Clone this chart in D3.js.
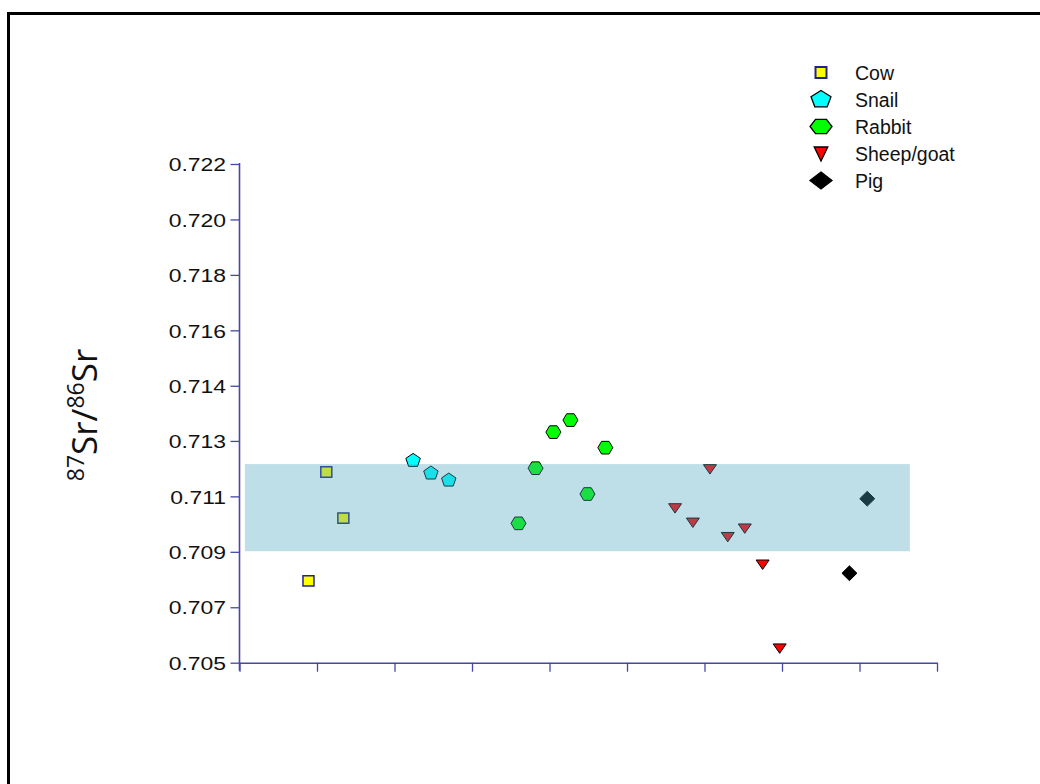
<!DOCTYPE html>
<html>
<head>
<meta charset="utf-8">
<script src="https://cdn.jsdelivr.net/npm/d3@7"></script>
<style>
  body { margin: 0; background: #fff; }
  svg { display: block; }
</style>
</head>
<body>
<figure id="chart" style="margin:0"></figure>
<script>
// values
const cowX = [0.89, 1.12, 1.34];
const cowY = [0.70779, 0.7115, 0.70993];
const snailX = [2.24, 2.47, 2.7];
const snailY = [0.71189, 0.71146, 0.71122];
const rabbitX = [3.6, 3.82, 4.05, 4.27, 4.49, 4.72];
const rabbitY = [0.70975, 0.71163, 0.71286, 0.71327, 0.71075, 0.71233];
const sheepX = [5.62, 5.85, 6.07, 6.3, 6.52, 6.75, 6.97];
const sheepY = [0.71026, 0.70977, 0.71159, 0.70928, 0.70957, 0.70834, 0.70548];
const pigX = [7.87, 8.1];
const pigY = [0.70805, 0.71059];

// local range band
const bandX = [0.07, 8.65];
const bandY = [0.7088, 0.71177];

const yTicks = [0.705, 0.70689, 0.70878, 0.71067, 0.71256, 0.71444, 0.71633, 0.71822, 0.72011, 0.722];
const yTickLabels = ['0.705', '0.707', '0.709', '0.711', '0.713', '0.714', '0.716', '0.718', '0.720', '0.722'];
const xTicks = [0, 1, 2, 3, 4, 5, 6, 7, 8, 9];

const legendNames = ['Cow', 'Snail', 'Rabbit', 'Sheep/goat', 'Pig'];

const width = 1040;
const height = 784;
const axisColor = '#4747a8';

const svg = d3.select('figure#chart')
  .append('svg')
  .attr('width', width)
  .attr('height', height);

const x = d3.scaleLinear().domain([0, 9]).range([239.5, 937]);
const y = d3.scaleLinear().domain([0.705, 0.722]).range([662.7, 164]);

// outer frame (runs off the right and bottom)
svg.append('rect')
  .attr('x', 8.5).attr('y', 13.5)
  .attr('width', 1200).attr('height', 1000)
  .attr('fill', 'none')
  .attr('stroke', '#000')
  .attr('stroke-width', 3);

// marker shapes
const poly = (pts) => 'M' + pts.map((p) => p.join(',')).join('L') + 'Z';
const ngon = (n, rx, ry, start) =>
  poly(d3.range(n).map((i) => {
    const a = start + (i * 2 * Math.PI) / n;
    return [rx * Math.cos(a), ry * Math.sin(a)];
  }));

const shapes = {
  square: (s) => poly([[-s.w, -s.h], [s.w, -s.h], [s.w, s.h], [-s.w, s.h]]),
  pentagon: (s) => ngon(5, s.w, s.h, -Math.PI / 2),
  hexagon: (s) => ngon(6, s.w, s.h, 0),
  triangle: (s) => poly([[-s.w, -s.h], [s.w, -s.h], [0, s.h]]),
  diamond: (s) => poly([[0, -s.h], [s.w, 0], [0, s.h], [-s.w, 0]]),
};

const series = [
  { name: 'Cow', xs: cowX, ys: cowY, shape: 'square', fill: '#ffff00', stroke: '#23238c', sw: 1.5,
    size: { w: 5.5, h: 5.2 }, legendSize: { w: 5.5, h: 5.5 } },
  { name: 'Snail', xs: snailX, ys: snailY, shape: 'pentagon', fill: '#00ffff', stroke: '#000', sw: 1,
    size: { w: 7.6, h: 7.2 }, legendSize: { w: 10.5, h: 9 } },
  { name: 'Rabbit', xs: rabbitX, ys: rabbitY, shape: 'hexagon', fill: '#00ff00', stroke: '#000', sw: 1,
    size: { w: 7.5, h: 7.3 }, legendSize: { w: 11, h: 8.3 } },
  { name: 'Sheep/goat', xs: sheepX, ys: sheepY, shape: 'triangle', fill: '#ff0000', stroke: '#000', sw: 1,
    size: { w: 6.5, h: 4.7 }, legendSize: { w: 6.8, h: 7 } },
  { name: 'Pig', xs: pigX, ys: pigY, shape: 'diamond', fill: '#000000', stroke: '#000', sw: 1,
    size: { w: 7.5, h: 7.4 }, legendSize: { w: 11, h: 8.5 } },
];

// points
const gPts = svg.append('g');
series.forEach((s) => {
  gPts.append('g')
    .selectAll('path')
    .data(s.xs.map((v, i) => [v, s.ys[i]]))
    .join('path')
    .attr('transform', (d) => `translate(${x(d[0])},${y(d[1])})`)
    .attr('d', shapes[s.shape](s.size))
    .attr('fill', s.fill)
    .attr('stroke', s.stroke)
    .attr('stroke-width', s.sw);
});

// translucent band drawn over the points
svg.append('rect')
  .attr('x', x(bandX[0]))
  .attr('y', y(bandY[1]))
  .attr('width', x(bandX[1]) - x(bandX[0]))
  .attr('height', y(bandY[0]) - y(bandY[1]))
  .attr('fill', 'rgb(73,162,190)')
  .attr('fill-opacity', 0.357);

// axes
const yAxis = d3.axisLeft(y)
  .tickValues(yTicks)
  .tickFormat((d, i) => yTickLabels[i])
  .tickSize(9)
  .tickSizeOuter(0);

const gy = svg.append('g')
  .attr('transform', `translate(${x(0)},0)`)
  .call(yAxis);

gy.select('.domain').attr('stroke', axisColor).attr('stroke-width', 1.6)
  .attr('d', `M0,${y(0.722) - 1}V${y(0.705) + 8}`);
gy.selectAll('.tick line').attr('stroke', axisColor).attr('stroke-width', 1.3);
gy.selectAll('.tick text')
  .attr('fill', '#111')
  .attr('font-family', 'Liberation Sans, Arial, sans-serif')
  .attr('font-size', 18.5)
  .attr('x', -13.5 / 1.24)
  .attr('dy', '0.36em')
  .attr('transform', 'scale(1.24,1)');

const xAxis = d3.axisBottom(x)
  .tickValues(xTicks)
  .tickFormat('')
  .tickSize(9)
  .tickSizeOuter(0);

const gx = svg.append('g')
  .attr('transform', `translate(0,${y(0.705)})`)
  .call(xAxis);

gx.select('.domain').attr('stroke', axisColor).attr('stroke-width', 1.6);
gx.selectAll('.tick line').attr('stroke', axisColor).attr('stroke-width', 1.3);

// y axis title
const title = svg.append('text')
  .attr('transform', 'translate(97,415) rotate(-90)')
  .attr('text-anchor', 'middle')
  .attr('font-family', 'Open Sans, Noto Sans, sans-serif')
  .attr('fill', '#111');
title.append('tspan').attr('font-size', 23).attr('dy', -13).text('87');
title.append('tspan').attr('font-size', 35).attr('dy', 13).text('Sr/');
title.append('tspan').attr('font-size', 23).attr('dy', -13).text('86');
title.append('tspan').attr('font-size', 35).attr('dy', 13).text('Sr');

// legend
const legendY = [72.5, 99.5, 126.5, 154, 180.5];
const legend = svg.append('g');
series.forEach((s, i) => {
  legend.append('path')
    .attr('transform', `translate(821,${legendY[i]})`)
    .attr('d', shapes[s.shape](s.legendSize))
    .attr('fill', s.fill)
    .attr('stroke', s.stroke)
    .attr('stroke-width', s.shape === 'square' ? 2 : 1.3);
  legend.append('text')
    .attr('x', 855)
    .attr('y', legendY[i])
    .attr('dy', '0.36em')
    .attr('font-family', 'Liberation Sans, Arial, sans-serif')
    .attr('font-size', 19.5)
    .attr('fill', '#111')
    .text(legendNames[i]);
});
</script>
</body>
</html>
